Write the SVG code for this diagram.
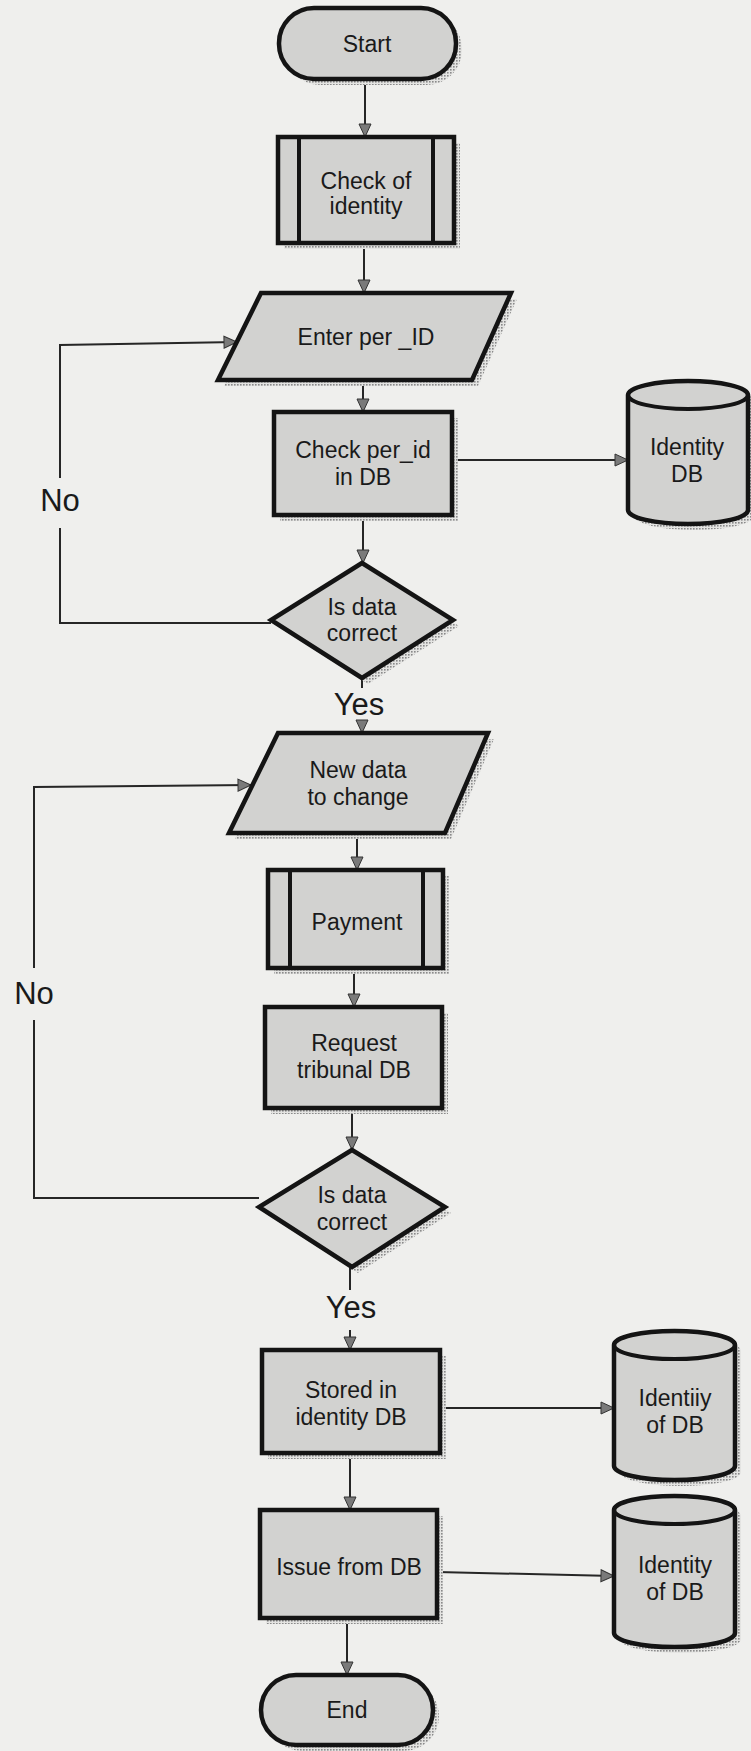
<svg xmlns="http://www.w3.org/2000/svg" width="751" height="1751" viewBox="0 0 751 1751">
<defs>
<pattern id="dots" width="3" height="3" patternUnits="userSpaceOnUse">
<rect width="3" height="3" fill="#e4e4e2"/>
<rect width="1.6" height="1.6" fill="#8a8a8a"/>
</pattern>
<marker id="arr" markerWidth="16" markerHeight="14" refX="14" refY="7" orient="auto" markerUnits="userSpaceOnUse">
<path d="M1,1 L14,7 L1,13 Z" fill="#7a7a7a" stroke="#333" stroke-width="1"/>
</marker>
<style>
.sh{fill:url(#dots);stroke:none}
.bx{fill:#d2d2d0;stroke:#141414;stroke-width:4.5;stroke-linejoin:miter}
.in{fill:none;stroke:#141414;stroke-width:4}
.t{font-family:"Liberation Sans",Arial,sans-serif;font-size:23px;fill:#1a1a1a;text-anchor:middle}
.lb{font-family:"Liberation Sans",Arial,sans-serif;font-size:31px;fill:#1a1a1a;text-anchor:middle}
.c{fill:none;stroke:#262626;stroke-width:2}
</style>
</defs>
<rect width="751" height="1751" fill="#efefed"/>

<g id="connectors">
<line class="c" x1="365" y1="79" x2="365" y2="137" marker-end="url(#arr)"/>
<line class="c" x1="364" y1="243" x2="364" y2="293" marker-end="url(#arr)"/>
<line class="c" x1="363" y1="380" x2="363" y2="412" marker-end="url(#arr)"/>
<line class="c" x1="452" y1="460" x2="628" y2="460" marker-end="url(#arr)"/>
<line class="c" x1="363" y1="515" x2="363" y2="563" marker-end="url(#arr)"/>
<polyline class="c" points="271,623 60,623 60,528"/>
<polyline class="c" points="60,478 60,345 237,342" marker-end="url(#arr)"/>
<line class="c" x1="362" y1="678" x2="362" y2="688"/>
<line class="c" x1="362" y1="722" x2="362" y2="733" marker-end="url(#arr)"/>
<line class="c" x1="357" y1="833" x2="357" y2="870" marker-end="url(#arr)"/>
<line class="c" x1="354" y1="968" x2="354" y2="1007" marker-end="url(#arr)"/>
<line class="c" x1="352" y1="1108" x2="352" y2="1150" marker-end="url(#arr)"/>
<polyline class="c" points="259,1198 34,1198 34,1020"/>
<polyline class="c" points="34,968 34,787 251,785" marker-end="url(#arr)"/>
<line class="c" x1="350" y1="1267" x2="350" y2="1290"/>
<line class="c" x1="350" y1="1330" x2="350" y2="1350" marker-end="url(#arr)"/>
<line class="c" x1="440" y1="1408" x2="614" y2="1408" marker-end="url(#arr)"/>
<line class="c" x1="350" y1="1453" x2="350" y2="1510" marker-end="url(#arr)"/>
<line class="c" x1="437" y1="1572" x2="614" y2="1576" marker-end="url(#arr)"/>
<line class="c" x1="347" y1="1618" x2="347" y2="1675" marker-end="url(#arr)"/>
<text class="lb" x="60" y="511">No</text>
<text class="lb" x="359" y="715">Yes</text>
<text class="lb" x="34" y="1004">No</text>
<text class="lb" x="351" y="1318">Yes</text>
</g>

<g id="start">
<rect class="sh" x="285" y="14" width="177" height="71" rx="35"/>
<rect class="bx" x="279" y="8" width="177" height="71" rx="35"/>
<text class="t" x="367" y="52">Start</text>
</g>

<g id="check_identity">
<rect class="sh" x="284" y="143" width="176" height="106"/>
<rect class="bx" x="278" y="137" width="176" height="106"/>
<line class="in" x1="299" y1="137" x2="299" y2="243"/>
<line class="in" x1="433" y1="137" x2="433" y2="243"/>
<text class="t" x="366" y="189">Check of</text>
<text class="t" x="366" y="214">identity</text>
</g>

<g id="enter_id">
<polygon class="sh" points="267,299 517,299 478,386 224,386"/>
<polygon class="bx" points="261,293 511,293 472,380 218,380"/>
<text class="t" x="366" y="345">Enter per _ID</text>
</g>

<g id="check_perid">
<rect class="sh" x="280" y="418" width="178" height="103"/>
<rect class="bx" x="274" y="412" width="178" height="103"/>
<text class="t" x="363" y="458">Check per_id</text>
<text class="t" x="363" y="485">in DB</text>
</g>

<g id="identity_db">
<path class="sh" d="M634,401 A60,14 0 0 1 754,401 L754,516 A60,14 0 0 1 634,516 Z"/>
<path class="bx" d="M628,395 A60,14 0 0 1 748,395 L748,510 A60,14 0 0 1 628,510 Z"/>
<path class="in" d="M628,395 A60,14 0 0 0 748,395"/>
<text class="t" x="687" y="455">Identity</text>
<text class="t" x="687" y="482">DB</text>
</g>

<g id="decision1">
<polygon class="sh" points="368,569 459,626 368,684 277,626"/>
<polygon class="bx" points="362,563 453,620 362,678 271,620"/>
<text class="t" x="362" y="615">Is data</text>
<text class="t" x="362" y="641">correct</text>
</g>

<g id="new_data">
<polygon class="sh" points="284,739 494,739 451,839 235,839"/>
<polygon class="bx" points="278,733 488,733 445,833 229,833"/>
<text class="t" x="358" y="778">New data</text>
<text class="t" x="358" y="805">to change</text>
</g>

<g id="payment">
<rect class="sh" x="274" y="876" width="175" height="98"/>
<rect class="bx" x="268" y="870" width="175" height="98"/>
<line class="in" x1="290" y1="870" x2="290" y2="968"/>
<line class="in" x1="423" y1="870" x2="423" y2="968"/>
<text class="t" x="357" y="930">Payment</text>
</g>

<g id="request">
<rect class="sh" x="271" y="1013" width="177" height="101"/>
<rect class="bx" x="265" y="1007" width="177" height="101"/>
<text class="t" x="354" y="1051">Request</text>
<text class="t" x="354" y="1078">tribunal DB</text>
</g>

<g id="decision2">
<polygon class="sh" points="358,1156 451,1213 358,1273 265,1213"/>
<polygon class="bx" points="352,1150 445,1207 352,1267 259,1207"/>
<text class="t" x="352" y="1203">Is data</text>
<text class="t" x="352" y="1230">correct</text>
</g>

<g id="stored">
<rect class="sh" x="268" y="1356" width="178" height="103"/>
<rect class="bx" x="262" y="1350" width="178" height="103"/>
<text class="t" x="351" y="1398">Stored in</text>
<text class="t" x="351" y="1425">identity DB</text>
</g>

<g id="identity_db2">
<path class="sh" d="M620,1351 A60,14 0 0 1 741,1351 L741,1472 A60,14 0 0 1 620,1472 Z"/>
<path class="bx" d="M614,1345 A60,14 0 0 1 735,1345 L735,1466 A60,14 0 0 1 614,1466 Z"/>
<path class="in" d="M614,1345 A60,14 0 0 0 735,1345"/>
<text class="t" x="675" y="1406">Identiiy</text>
<text class="t" x="675" y="1433">of DB</text>
</g>

<g id="issue">
<rect class="sh" x="266" y="1516" width="177" height="108"/>
<rect class="bx" x="260" y="1510" width="177" height="108"/>
<text class="t" x="349" y="1575">Issue from DB</text>
</g>

<g id="identity_db3">
<path class="sh" d="M620,1516 A60,14 0 0 1 741,1516 L741,1639 A60,14 0 0 1 620,1639 Z"/>
<path class="bx" d="M614,1510 A60,14 0 0 1 735,1510 L735,1633 A60,14 0 0 1 614,1633 Z"/>
<path class="in" d="M614,1510 A60,14 0 0 0 735,1510"/>
<text class="t" x="675" y="1573">Identity</text>
<text class="t" x="675" y="1600">of DB</text>
</g>

<g id="end">
<rect class="sh" x="267" y="1681" width="172" height="70" rx="35"/>
<rect class="bx" x="261" y="1675" width="172" height="70" rx="35"/>
<text class="t" x="347" y="1718">End</text>
</g>
</svg>
